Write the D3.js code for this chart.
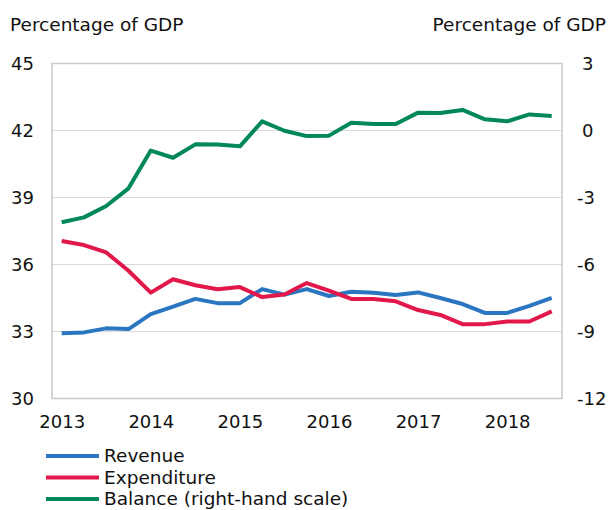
<!DOCTYPE html>
<html><head><meta charset="utf-8">
<script src="https://cdn.jsdelivr.net/npm/d3@7"></script>
<style>body{margin:0;background:#fff}svg{display:block;font-family:"DejaVu Sans",Verdana,sans-serif}</style>
</head><body>
<script>
const quarters = ["2013Q1","2013Q2","2013Q3","2013Q4","2014Q1","2014Q2","2014Q3","2014Q4","2015Q1","2015Q2","2015Q3","2015Q4","2016Q1","2016Q2","2016Q3","2016Q4","2017Q1","2017Q2","2017Q3","2017Q4","2018Q1","2018Q2","2018Q3"];
const revenue = [32.92,32.96,33.14,33.11,33.78,34.11,34.46,34.27,34.27,34.90,34.65,34.90,34.59,34.78,34.74,34.63,34.75,34.50,34.23,33.83,33.83,34.15,34.51];
const expenditure = [37.05,36.87,36.54,35.72,34.74,35.34,35.07,34.89,34.99,34.54,34.66,35.17,34.83,34.46,34.46,34.35,33.96,33.74,33.33,33.33,33.45,33.45,33.90];
const balance = [-4.11,-3.89,-3.38,-2.59,-0.90,-1.22,-0.62,-0.63,-0.71,0.41,-0.01,-0.25,-0.23,0.35,0.29,0.29,0.80,0.78,0.92,0.50,0.41,0.72,0.65];
const leftTicks = [30,33,36,39,42,45];
const rightTicks = [-12,-9,-6,-3,0,3];
const yearLabels = ["2013","2014","2015","2016","2017","2018"];
const seriesNames = ["Revenue","Expenditure","Balance (right-hand scale)"];
const colors = ["#2a76c0","#e3184a","#00875c"];

const W = 614, H = 510;
const plot = {l:52, r:562, t:63.5, b:398.5};
const svg = d3.select("body").append("svg").attr("width",W).attr("height",H);

const x = d3.scalePoint().domain(quarters).range([61.7, 551.7]);
const yL = d3.scaleLinear().domain([30,45]).range([plot.b, plot.t]);
const yR = d3.scaleLinear().domain([-12,3]).range([plot.b, plot.t]);

svg.append("g").selectAll("line").data(leftTicks.slice(1,-1)).join("line")
  .attr("x1",plot.l).attr("x2",plot.r).attr("y1",d=>yL(d)).attr("y2",d=>yL(d))
  .attr("stroke","#d9d9d9").attr("stroke-width",1.2);
svg.append("rect").attr("x",plot.l).attr("y",plot.t).attr("width",plot.r-plot.l).attr("height",plot.b-plot.t)
  .attr("fill","none").attr("stroke","#c8c8c8").attr("stroke-width",1.5);

const fsN = 18, fsT = 18.5;
const ff = "DejaVu Sans, Verdana, sans-serif";
const fmt = d => String(d);
const axL = d3.axisLeft(yL).tickValues(leftTicks).tickFormat(fmt).tickSize(0).tickPadding(0);
const gL = svg.append("g").attr("transform","translate(11,0)").call(axL);
gL.select(".domain").remove();
gL.selectAll("text").attr("text-anchor","start").attr("x",0).attr("font-size",fsN).attr("fill","#111").attr("font-family",ff).attr("dy","0.35em");
const axR = d3.axisRight(yR).tickValues(rightTicks).tickFormat(fmt).tickSize(0).tickPadding(0);
const gR = svg.append("g").attr("transform","translate(577,0)").call(axR);
gR.select(".domain").remove();
gR.selectAll("text").attr("text-anchor","start").attr("font-size",fsN).attr("fill","#111").attr("font-family",ff).attr("dy","0.35em")
  .attr("x", d => d < 0 ? 0 : 5);

const xYear = d3.scalePoint().domain(yearLabels).range([x("2013Q1"), x("2018Q1")]);
const axX = d3.axisBottom(xYear).tickSize(0).tickPadding(0);
const gX = svg.append("g").attr("transform","translate(0,422)").call(axX);
gX.select(".domain").remove();
gX.selectAll("text").attr("font-size",fsN).attr("fill","#111").attr("font-family",ff).attr("dy","0.35em").attr("y",0);

svg.append("text").attr("x",10).attr("y",31).attr("font-size",fsT).attr("fill","#111").text("Percentage of GDP");
svg.append("text").attr("x",606).attr("y",31).attr("text-anchor","end").attr("font-size",fsT).attr("fill","#111").text("Percentage of GDP");

const lineL = d3.line().x((d,i)=>x(quarters[i])).y(d=>yL(d));
const lineR = d3.line().x((d,i)=>x(quarters[i])).y(d=>yR(d));
svg.append("path").datum(revenue).attr("d",lineL).attr("fill","none").attr("stroke",colors[0]).attr("stroke-width",4).attr("stroke-linejoin","round");
svg.append("path").datum(expenditure).attr("d",lineL).attr("fill","none").attr("stroke",colors[1]).attr("stroke-width",4).attr("stroke-linejoin","round");
svg.append("path").datum(balance).attr("d",lineR).attr("fill","none").attr("stroke",colors[2]).attr("stroke-width",4).attr("stroke-linejoin","round");

const lg = svg.append("g").selectAll("g").data(seriesNames).join("g")
  .attr("transform",(d,i)=>`translate(0,${456 + i*21.5})`);
lg.append("line").attr("x1",46).attr("x2",99).attr("y1",0).attr("y2",0)
  .attr("stroke",(d,i)=>colors[i]).attr("stroke-width",4);
lg.append("text").attr("x",104).attr("y",0).attr("dy","0.35em").attr("font-size",fsT).attr("fill","#111").text(d=>d);
</script>
</body></html>
